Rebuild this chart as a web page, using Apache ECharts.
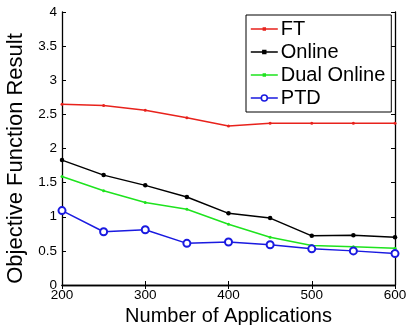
<!DOCTYPE html>
<html>
<head>
<meta charset="utf-8">
<script src="https://cdn.jsdelivr.net/npm/echarts@6/dist/echarts.min.js"></script>
<style>
  html, body { margin: 0; padding: 0; background: #fff; }
  #chart { width: 406px; height: 325px; }
</style>
</head>
<body>
<div id="chart"></div>
<script>
// Number of applications on the x axis
const applications = [200, 250, 300, 350, 400, 450, 500, 550, 600];

// Objective function result per method
const ftValues         = [2.65, 2.63, 2.56, 2.45, 2.33, 2.37, 2.37, 2.37, 2.37];
const onlineValues     = [1.83, 1.61, 1.46, 1.29, 1.05, 0.98, 0.72, 0.73, 0.70];
const dualOnlineValues = [1.59, 1.38, 1.21, 1.11, 0.89, 0.70, 0.58, 0.56, 0.54];
const ptdValues        = [1.09, 0.78, 0.81, 0.61, 0.63, 0.59, 0.53, 0.50, 0.46];

const xTicks = [200, 300, 400, 500, 600];
const yTicks = [0, 0.5, 1, 1.5, 2, 2.5, 3, 3.5, 4];

const FONT = 'Liberation Sans, Arial, sans-serif';

function pairs(vals) {
  return applications.map((x, i) => [x, vals[i]]);
}

function lineSeries(name, vals, color, symbol, size) {
  return {
    name: name,
    type: 'line',
    data: pairs(vals),
    symbol: symbol,
    symbolSize: size,
    showSymbol: true,
    color: color,
    lineStyle: { color: color, width: 1.5 },
    itemStyle: { color: color, borderWidth: symbol === 'emptyCircle' ? 1.6 : 0 },
    emphasis: { disabled: true },
    animation: false
  };
}

const chart = echarts.init(document.getElementById('chart'));

const axisLineStyle = { show: true, lineStyle: { color: '#000', width: 1.3 } };
const tickStyle = { show: true, inside: true, length: 4, lineStyle: { color: '#000', width: 1 } };

chart.setOption({
  backgroundColor: '#fff',
  animation: false,
  grid: { left: 62, right: 11, top: 12, bottom: 40, containLabel: false, outerBoundsMode: 'none' },
  legend: {
    orient: 'vertical',
    left: 246,
    top: 15,
    width: 145,
    padding: [4, 6, 4, 4],
    itemGap: 3,
    itemWidth: 27,
    itemHeight: 22,
    symbolKeepAspect: true,
    backgroundColor: '#fff',
    borderColor: '#000',
    borderWidth: 1,
    textStyle: { fontFamily: FONT, fontSize: 20, color: '#000', padding: [0, 0, 0, -2] },
    data: [
      { name: 'FT', icon: 'path://M0,10 L27,10 M12.5,9 L14.5,9 L14.5,11 L12.5,11 Z', itemStyle: { color: '#e8221c', borderColor: '#e8221c', borderWidth: 1.4 } },
      { name: 'Online', icon: 'path://M0,10 L27,10 M12,8.5 L15,8.5 L15,11.5 L12,11.5 Z', itemStyle: { color: '#000', borderColor: '#000', borderWidth: 1.4 } },
      { name: 'Dual Online', icon: 'path://M0,10 L27,10 M12.5,9 L14.5,9 L14.5,11 L12.5,11 Z', itemStyle: { color: '#1ee31e', borderColor: '#1ee31e', borderWidth: 1.4 } },
      { name: 'PTD', icon: 'path://M0,10 L10.5,10 M16.5,10 L27,10 M16.5,10 A3,3 0 1 1 10.5,10 A3,3 0 1 1 16.5,10 Z', itemStyle: { color: 'rgba(0,0,0,0)', borderColor: '#1a1ae0', borderWidth: 1.6 } }
    ]
  },
  xAxis: [
    {
      type: 'value',
      min: 200, max: 600, interval: 100,
      name: 'Number of Applications',
      nameLocation: 'middle',
      nameGap: 18,
      nameTextStyle: { fontFamily: FONT, fontSize: 20, color: '#000' },
      axisLine: axisLineStyle,
      axisTick: tickStyle,
      splitLine: { show: false },
      axisLabel: {
        fontFamily: FONT, fontSize: 13.5, color: '#000', margin: 3,
        formatter: v => (xTicks.includes(v) ? String(v) : '')
      }
    },
    {
      type: 'value', position: 'top',
      min: 200, max: 600, interval: 100,
      axisLine: axisLineStyle,
      axisTick: tickStyle,
      axisLabel: { show: false },
      splitLine: { show: false }
    }
  ],
  yAxis: [
    {
      type: 'value',
      min: 0, max: 4, interval: 0.5,
      name: 'Objective Function Result',
      nameLocation: 'middle',
      nameGap: 32,
      nameTextStyle: { fontFamily: FONT, fontSize: 22, color: '#000', padding: [0, 20, 0, 0] },
      axisLine: axisLineStyle,
      axisTick: tickStyle,
      splitLine: { show: false },
      axisLabel: {
        fontFamily: FONT, fontSize: 13.5, color: '#000', margin: 5,
        formatter: v => (yTicks.includes(v) ? String(v) : '')
      }
    },
    {
      type: 'value', position: 'right',
      min: 0, max: 4, interval: 0.5,
      axisLine: axisLineStyle,
      axisTick: tickStyle,
      axisLabel: { show: false },
      splitLine: { show: false }
    }
  ],
  series: [
    lineSeries('FT', ftValues, '#e8221c', 'circle', 3),
    lineSeries('Online', onlineValues, '#000000', 'circle', 4.5),
    lineSeries('Dual Online', dualOnlineValues, '#1ee31e', 'circle', 3),
    lineSeries('PTD', ptdValues, '#1a1ae0', 'emptyCircle', 7)
  ]
});
</script>
</body>
</html>
